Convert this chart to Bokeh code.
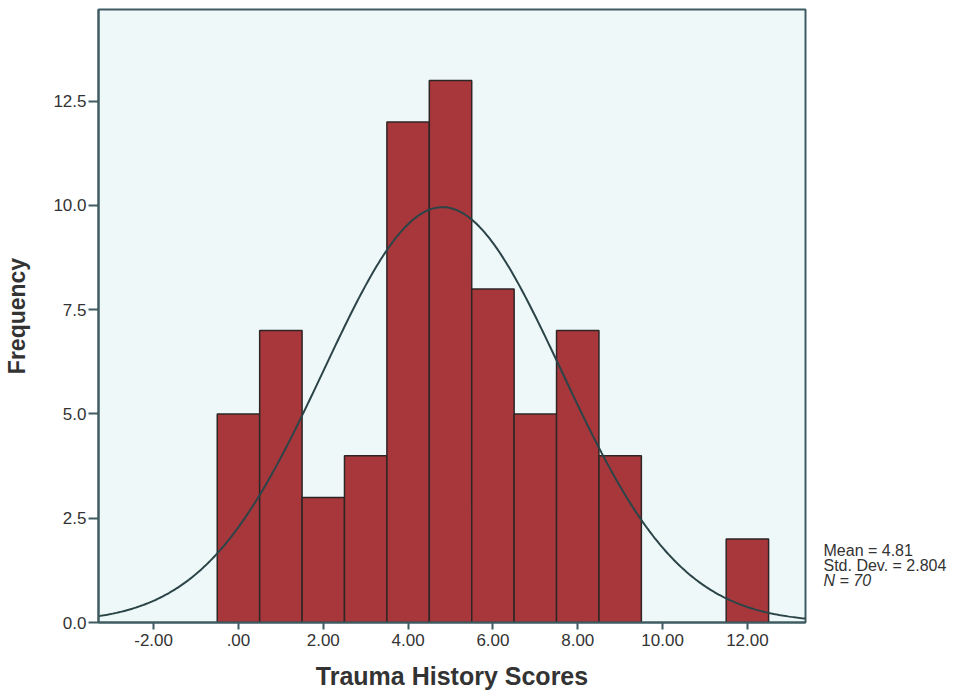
import numpy as np
from bokeh.plotting import figure
from bokeh.layouts import row
from bokeh.models import Range1d, FixedTicker, Label
from bokeh.embed import file_html
from bokeh.resources import INLINE

# Data
bin_centers = [0, 1, 2, 3, 4, 5, 6, 7, 8, 9, 10, 11, 12]
counts = [5, 7, 3, 4, 12, 13, 8, 5, 7, 4, 0, 0, 2]
mean_val = 4.81
std_val = 2.804
n_val = 70
x_ticks = [-2, 0, 2, 4, 6, 8, 10, 12]
x_tick_labels = ["-2.00", ".00", "2.00", "4.00", "6.00", "8.00", "10.00", "12.00"]
y_ticks = [0, 2.5, 5, 7.5, 10, 12.5]
y_tick_labels = ["0.0", "2.5", "5.0", "7.5", "10.0", "12.5"]

BAR = "#A8373C"
EDGE = "#2e2626"
BG = "#EEF8F8"
FRAME = "#3E5C62"
TXT = "#333333"

X_LO, X_HI = -3.3, 13.37
Y_LO, Y_HI = 0, 14.7
TOP, FH, BOT = 9, 613, 68
H = TOP + FH + BOT
LEFT, FW, RIGHT = 98, 707, 3

p = figure(output_backend="svg", toolbar_location=None,
           frame_width=FW, frame_height=FH,
           min_border_left=LEFT, min_border_right=RIGHT, min_border_top=TOP, min_border_bottom=BOT,
           x_range=Range1d(X_LO, X_HI), y_range=Range1d(Y_LO, Y_HI),
           background_fill_color=BG, border_fill_color="white")

p.grid.visible = False
p.outline_line_color = FRAME
p.outline_line_width = 2

xs = [c for c, n in zip(bin_centers, counts) if n > 0]
hs = [n for n in counts if n > 0]
p.vbar(x=xs, top=hs, bottom=0, width=1.0, fill_color=BAR, line_color=EDGE, line_width=1.5)

# Fitted normal curve from the stated statistics (bin width 1)
xc = np.linspace(X_LO, X_HI, 400)
yc = n_val * 1.0 / (std_val * np.sqrt(2 * np.pi)) * np.exp(-0.5 * ((xc - mean_val) / std_val) ** 2)
p.line(xc, yc, line_color="#2B4448", line_width=2)

p.xaxis.ticker = FixedTicker(ticks=x_ticks)
p.xaxis.major_label_overrides = {t: l for t, l in zip(x_ticks, x_tick_labels)}
p.yaxis.ticker = FixedTicker(ticks=y_ticks)
p.yaxis.major_label_overrides = {t: l for t, l in zip(y_ticks, y_tick_labels)}

for ax in (p.xaxis, p.yaxis):
    ax.axis_line_color = FRAME
    ax.axis_line_width = 2
    ax.major_tick_line_color = FRAME
    ax.major_tick_line_width = 2
    ax.major_tick_in = 0
    ax.minor_tick_line_color = None
    ax.major_label_text_font = "Liberation Sans"
    ax.major_label_text_font_size = "17px"
    ax.major_label_text_color = TXT
    ax.axis_label_text_font = "Liberation Sans"
    ax.axis_label_text_font_style = "bold"
    ax.axis_label_text_color = TXT

p.xaxis.major_tick_out = 7
p.yaxis.major_tick_out = 10
p.xaxis.axis_label = "Trauma History Scores"
p.xaxis.axis_label_text_font_size = "25px"
p.xaxis.major_label_standoff = 4
p.xaxis.axis_label_standoff = 13
p.yaxis.axis_label = "Frequency"
p.yaxis.axis_label_text_font_size = "23px"
p.yaxis.major_label_standoff = 2
p.yaxis.axis_label_standoff = 20

# Side panel holding the summary statistics (pixel-like coordinates, y downwards)
SW = 150
s = figure(output_backend="svg", toolbar_location=None,
           frame_width=SW, frame_height=H,
           min_border_left=0, min_border_right=0, min_border_top=0, min_border_bottom=0,
           x_range=Range1d(0, SW), y_range=Range1d(H, 0),
           x_axis_type=None, y_axis_type=None,
           background_fill_color="white", border_fill_color="white")
s.grid.visible = False
s.outline_line_color = None

stat_lines = ["Mean = %.2f" % mean_val, "Std. Dev. = %.3f" % std_val, "N = %d" % n_val]
stat_styles = ["normal", "normal", "italic"]
stat_pos = [540.5, 555.5, 570.5]
for t, st, yy in zip(stat_lines, stat_styles, stat_pos):
    s.add_layout(Label(x=15, y=yy, text=t, text_font="Liberation Sans",
                       text_font_size="16px", text_color=TXT, text_font_style=st,
                       text_baseline="middle", text_align="left"))

layout = row(p, s, spacing=0)
open("out.html", "w").write(file_html(layout, INLINE))
